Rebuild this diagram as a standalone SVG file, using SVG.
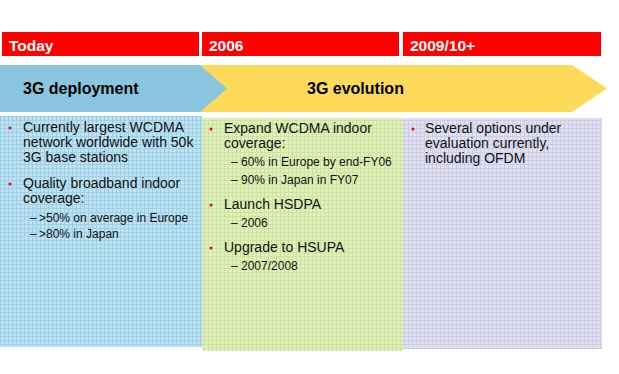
<svg xmlns="http://www.w3.org/2000/svg" width="619" height="374" viewBox="0 0 619 374">
<defs>
<pattern id="gBlue" width="4" height="4" patternUnits="userSpaceOnUse">
<rect width="4" height="4" fill="#bfe1f1"/>
<path d="M0 0.5H4M0.5 0V4" stroke="#9dd1e9" stroke-width="1"/>
</pattern>
<pattern id="gGreen" width="4" height="4" patternUnits="userSpaceOnUse">
<rect width="4" height="4" fill="#e0f1bb"/>
<path d="M0 0.5H4M0.5 0V4" stroke="#cbe59e" stroke-width="1"/>
</pattern>
<pattern id="gPurple" width="4" height="4" patternUnits="userSpaceOnUse">
<rect width="4" height="4" fill="#e1e1f1"/>
<path d="M0 0.5H4M0.5 0V4" stroke="#cdcde7" stroke-width="1"/>
</pattern>
<style>
.hdr{fill:#ff0000}
.ht{font-family:"Liberation Sans",Arial,sans-serif;font-weight:bold;font-size:15.5px;fill:#ffffff}
.at{font-family:"Liberation Sans",Arial,sans-serif;font-weight:bold;font-size:16px;fill:#000000}
.t{font-family:"Liberation Sans",Arial,sans-serif;font-size:14px;fill:#111111}
.s{font-family:"Liberation Sans",Arial,sans-serif;font-size:12px;fill:#111111}
.b{fill:#ff0000}
</style>
</defs>
<rect width="619" height="374" fill="#ffffff"/>
<g id="header-today"><rect class="hdr" x="2" y="32" width="197" height="24"/><text class="ht" x="9" y="51">Today</text></g>
<g id="header-2006"><rect class="hdr" x="202" y="32" width="197" height="24"/><text class="ht" x="209" y="51">2006</text></g>
<g id="header-2009"><rect class="hdr" x="403" y="32" width="198" height="24"/><text class="ht" x="410" y="51">2009/10+</text></g>
<g id="arrow-evolution"><polygon points="200,65 572,65 607,88.5 572,112 200,112" fill="#fdda5a"/><text class="at" x="307" y="94">3G evolution</text></g>
<g id="arrow-deployment"><polygon points="0,65 200,65 227,88.5 200,112 0,112" fill="#8ac5df"/><text class="at" x="23" y="94">3G deployment</text></g>
<g id="panel-today">
<rect x="0" y="116" width="202" height="231" fill="url(#gBlue)"/>
<circle class="b" cx="10" cy="128" r="1.5"/>
<text class="t" x="23" y="132">Currently largest WCDMA</text>
<text class="t" x="23" y="147">network worldwide with 50k</text>
<text class="t" x="23" y="162">3G base stations</text>
<circle class="b" cx="10" cy="184" r="1.5"/>
<text class="t" x="23" y="188">Quality broadband indoor</text>
<text class="t" x="23" y="203">coverage:</text>
<text class="s" x="30" y="222">–</text><text class="s" x="39" y="222">&gt;50% on average in Europe</text>
<text class="s" x="30" y="238">–</text><text class="s" x="39" y="238">&gt;80% in Japan</text>
</g>
<g id="panel-2006">
<rect x="202" y="118" width="201" height="233" fill="url(#gGreen)"/>
<circle class="b" cx="211" cy="129" r="1.5"/>
<text class="t" x="224" y="133">Expand WCDMA indoor</text>
<text class="t" x="224" y="148">coverage:</text>
<text class="s" x="231" y="166">– 60% in Europe by end-FY06</text>
<text class="s" x="231" y="184">– 90% in Japan in FY07</text>
<circle class="b" cx="211" cy="205" r="1.5"/>
<text class="t" x="224" y="209">Launch HSDPA</text>
<text class="s" x="231" y="227">– 2006</text>
<circle class="b" cx="211" cy="248" r="1.5"/>
<text class="t" x="224" y="252">Upgrade to HSUPA</text>
<text class="s" x="231" y="270">– 2007/2008</text>
</g>
<g id="panel-2009">
<rect x="403" y="118" width="199" height="231" fill="url(#gPurple)"/>
<circle class="b" cx="413" cy="129" r="1.5"/>
<text class="t" x="425" y="133">Several options under</text>
<text class="t" x="425" y="148">evaluation currently,</text>
<text class="t" x="425" y="163">including OFDM</text>
</g>
<g id="connectors"/>
</svg>
